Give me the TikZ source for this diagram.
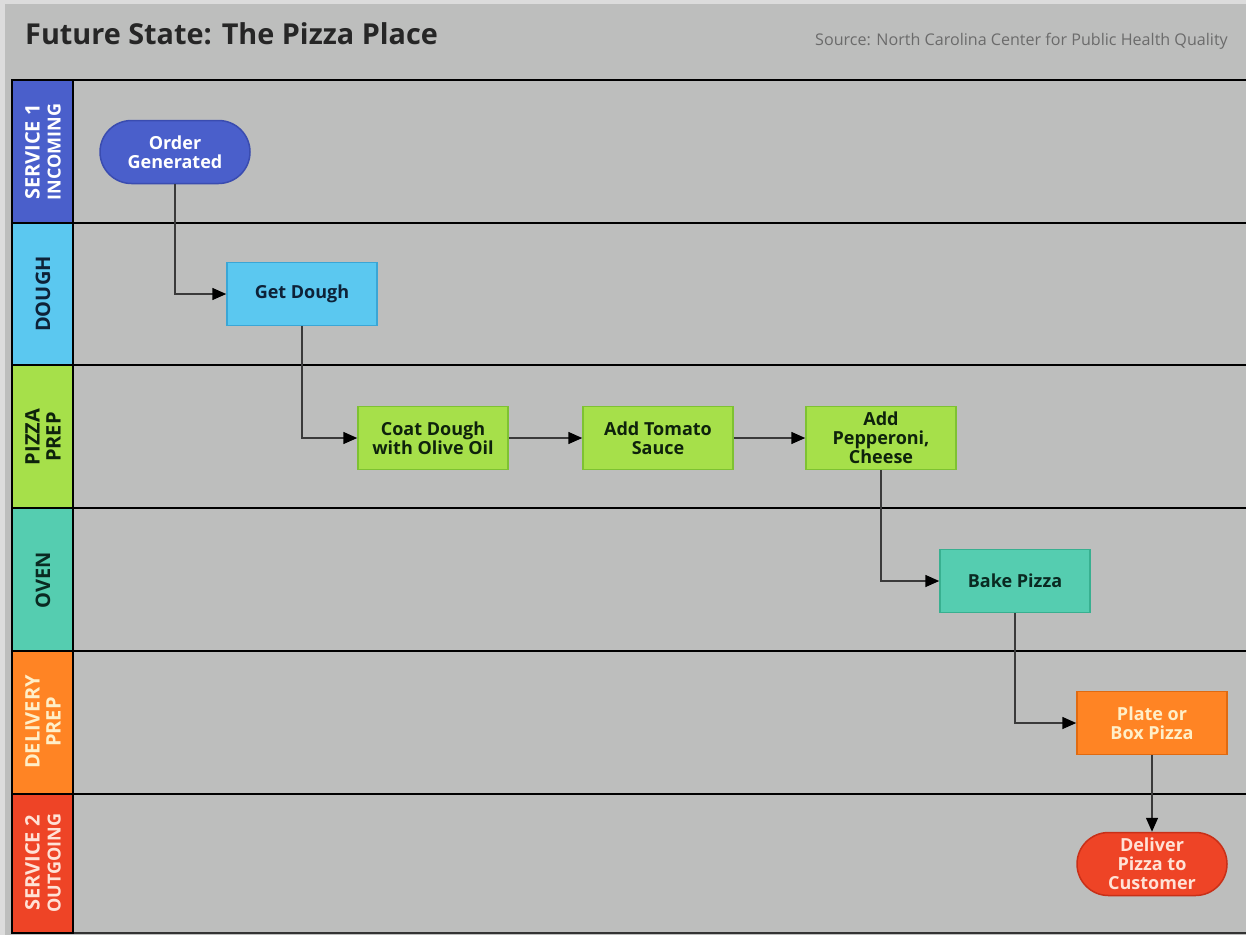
\documentclass[tikz,border=0pt]{standalone}
\usepackage{fontspec}
\setmainfont{Open Sans}
\usetikzlibrary{arrows.meta,shapes.misc}
\definecolor{bg}{HTML}{BDBEBD}
\definecolor{edgebg}{HTML}{DCDCDC}
\definecolor{lblue}{HTML}{4A5FCB}
\definecolor{ldough}{HTML}{5BC8F0}
\definecolor{lprep}{HTML}{A6E04A}
\definecolor{loven}{HTML}{55CDB0}
\definecolor{ldel}{HTML}{FF8424}
\definecolor{lserv}{HTML}{EE4426}
\definecolor{bblue}{HTML}{3A4CB0}
\definecolor{bdough}{HTML}{3AA6D6}
\definecolor{bprep}{HTML}{7EC232}
\definecolor{boven}{HTML}{38B090}
\definecolor{bdel}{HTML}{E06A10}
\definecolor{bserv}{HTML}{C83018}
\definecolor{navy}{HTML}{0E2238}
\definecolor{dgreen}{HTML}{0E220C}
\definecolor{dteal}{HTML}{0A2A22}
\definecolor{cream}{HTML}{FFEFC8}
\definecolor{pinkw}{HTML}{FFE2D6}
\definecolor{conncol}{HTML}{3A3A3A}
\begin{document}
\begin{tikzpicture}[x=1pt,y=-1pt,
  lanebox/.style={draw=black, line width=2.5pt},
  lanetxt/.style={rotate=90, align=center, font=\fontsize{20}{21}\selectfont\bfseries, inner sep=0pt},
  proc/.style={draw, line width=1.5pt, minimum width=150pt, minimum height=63pt, align=center, inner sep=0pt, font=\fontsize{18}{19}\selectfont\bfseries},
  term/.style={proc, rounded rectangle},
  conn/.style={draw=conncol, line width=1.5pt, -{Triangle[length=14pt,width=12pt,color=black]}}
]
\useasboundingbox (0,0) rectangle (1246,935);
\fill[edgebg] (0,0) rectangle (1246,935);
\fill[bg] (5,4) rectangle (1246,935);

% title and source
\node[anchor=west, inner sep=0pt, font=\fontsize{28.8}{29}\selectfont\bfseries, text=black!85] (title) at (25,34) {Future State: The Pizza Place};
\node[anchor=east, inner sep=0pt, font=\fontsize{16.1}{16}\selectfont, text=black!58] (source) at (1228,41) {Source: North Carolina Center for Public Health Quality};

% lane separators
\foreach \yy in {80,223,365,508,651,794} {
  \draw[line width=2.5pt, black] (12,\yy) -- (1246,\yy);
}
\draw[line width=1.5pt, black!80] (12,933) -- (1246,933);

% lane headers
\filldraw[lanebox, fill=lblue] (12,80) rectangle (73,223);
\filldraw[lanebox, fill=ldough] (12,223) rectangle (73,365);
\filldraw[lanebox, fill=lprep] (12,365) rectangle (73,508);
\filldraw[lanebox, fill=loven] (12,508) rectangle (73,651);
\filldraw[lanebox, fill=ldel] (12,651) rectangle (73,794);
\filldraw[lanebox, fill=lserv] (12,794) rectangle (73,933);

\node[lanetxt, text=white] (h1) at (43,152) {SERVICE 1\\{\fontsize{18}{21}\selectfont INCOMING}};
\node[lanetxt, text=navy] (h2) at (43,294) {DOUGH};
\node[lanetxt, text=dgreen] (h3) at (43,437) {PIZZA\\PREP};
\node[lanetxt, text=dteal] (h4) at (43,580) {OVEN};
\node[lanetxt, text=cream] (h5) at (43,722) {DELIVERY\\PREP};
\node[lanetxt, text=pinkw] (h6) at (43,863) {SERVICE 2\\{\fontsize{18}{21}\selectfont OUTGOING}};

% process nodes
\node[term, fill=lblue, draw=bblue, text=white] (order) at (175,152) {Order\\Generated};
\node[proc, fill=ldough, draw=bdough, text=navy] (dough) at (302,294) {Get Dough};
\node[proc, fill=lprep, draw=bprep, text=dgreen] (coat) at (433,438) {Coat Dough\\with Olive Oil};
\node[proc, fill=lprep, draw=bprep, text=dgreen] (tomato) at (658,438) {Add Tomato\\Sauce};
\node[proc, fill=lprep, draw=bprep, text=dgreen] (pep) at (881,438) {Add\\Pepperoni,\\Cheese};
\node[proc, fill=loven, draw=boven, text=dteal] (bake) at (1015,581) {Bake Pizza};
\node[proc, fill=ldel, draw=bdel, text=cream] (plate) at (1152,723) {Plate or\\Box Pizza};
\node[term, fill=lserv, draw=bserv, text=pinkw] (deliver) at (1152,864) {Deliver\\Pizza to\\Customer};

% connectors
\draw[conn] (order.south) |- (dough.west);
\draw[conn] (dough.south) |- (coat.west);
\draw[conn] (coat) -- (tomato);
\draw[conn] (tomato) -- (pep);
\draw[conn] (pep.south) |- (bake.west);
\draw[conn] (bake.south) |- (plate.west);
\draw[conn] (plate) -- (deliver);
\end{tikzpicture}
\end{document}
